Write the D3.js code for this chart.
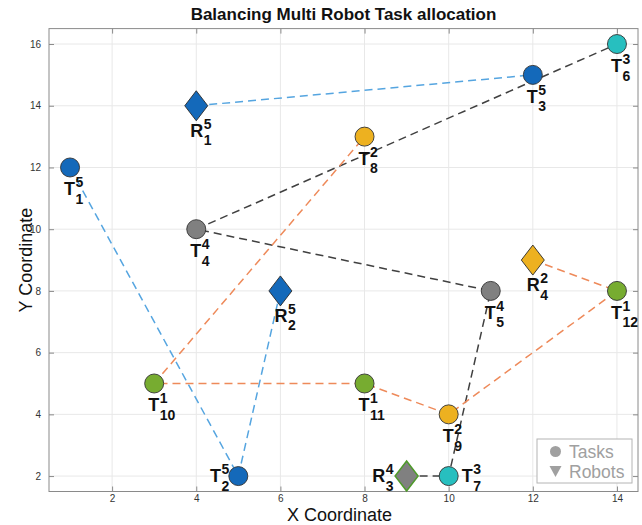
<!DOCTYPE html>
<html>
<head>
<meta charset="utf-8">
<script src="https://cdn.jsdelivr.net/npm/d3@7"></script>
<style>
  html, body { margin: 0; padding: 0; background: #fff; }
  svg { display: block; font-family: "Liberation Sans", Arial, Helvetica, sans-serif; }
</style>
</head>
<body>
<svg id="chart" width="642" height="525"></svg>
<script>
// Tasks: position and assigned group (superscript)
const taskX     = [1, 5, 12, 4, 11, 14, 10, 8, 10, 3, 8, 14];
const taskY     = [12, 2, 15, 10, 8, 16, 2, 13, 4, 5, 5, 8];
const taskGroup = [5, 5, 5, 4, 4, 3, 3, 2, 2, 1, 1, 1];

// Robots: position and group
const robotX     = [4, 6, 9, 12];
const robotY     = [14, 8, 2, 9];
const robotGroup = [5, 5, 4, 2];

// Routes travelled by each robot (node ids)
const routeNodes = [
  ["R1", "T3"],
  ["R2", "T2", "T1"],
  ["R3", "T7", "T5", "T4", "T6"],
  ["R4", "T12", "T9", "T11", "T10", "T8"]
];
const routeRobot = [1, 2, 3, 4];

const xTicks = [2, 4, 6, 8, 10, 12, 14];
const yTicks = [2, 4, 6, 8, 10, 12, 14, 16];
const xDomain = [0.5, 14.5];
const yDomain = [1.5, 16.5];

const titleText = "Balancing Multi Robot Task allocation";
const xLabel = "X Coordinate";
const yLabel = "Y Coordinate";
const legendItems = ["Tasks", "Robots"];

// ---- styles ----
const groupFill = {5: "#1469ba", 4: "#808080", 3: "#27bfbf", 2: "#edb120", 1: "#77ac30"};
const routeColor = {1: "#55a5e0", 2: "#55a5e0", 3: "#404040", 4: "#ee8a5a"};
const robotEdge = {1: "#2a2a2a", 2: "#2a2a2a", 3: "#4e9a2a", 4: "#2a2a2a"};
// label placement: "below" (default), "left", "right"
const taskLabelSide = {2: "left", 7: "right"};
const robotLabelSide = {3: "left"};

const W = 642, H = 525;
const margin = {left: 49, right: 4, top: 28.6, bottom: 33.5};
const svg = d3.select("#chart");

const x = d3.scaleLinear().domain(xDomain).range([margin.left, W - margin.right]);
const y = d3.scaleLinear().domain(yDomain).range([H - margin.bottom, margin.top]);

// node lookup
const nodes = {};
taskX.forEach((v, i) => nodes["T" + (i + 1)] = {x: v, y: taskY[i]});
robotX.forEach((v, i) => nodes["R" + (i + 1)] = {x: v, y: robotY[i]});

// background and grid
svg.append("rect").attr("x", x(xDomain[0])).attr("y", y(yDomain[1]))
  .attr("width", x(xDomain[1]) - x(xDomain[0])).attr("height", y(yDomain[0]) - y(yDomain[1]))
  .attr("fill", "#fff");

const grid = svg.append("g").attr("stroke", "#e8e8e8").attr("stroke-width", 1);
grid.selectAll("line.gx").data(xTicks).join("line")
  .attr("x1", d => x(d)).attr("x2", d => x(d))
  .attr("y1", y(yDomain[0])).attr("y2", y(yDomain[1]));
grid.selectAll("line.gy").data(yTicks).join("line")
  .attr("y1", d => y(d)).attr("y2", d => y(d))
  .attr("x1", x(xDomain[0])).attr("x2", x(xDomain[1]));

// axes (ticks inward, box on)
const axisColor = "#8a8a8a";
function styleAxis(g) {
  g.select(".domain").remove();
  g.selectAll(".tick line").attr("stroke", axisColor);
  g.selectAll(".tick text").attr("fill", "#333").attr("font-size", 10);
}
svg.append("g").attr("transform", `translate(0,${y(yDomain[0])})`)
  .call(d3.axisBottom(x).tickValues(xTicks).tickSizeInner(-5).tickSizeOuter(0).tickPadding(3))
  .call(styleAxis);
svg.append("g").attr("transform", `translate(${x(xDomain[0])},0)`)
  .call(d3.axisLeft(y).tickValues(yTicks).tickSizeInner(-5).tickSizeOuter(0).tickPadding(8))
  .call(styleAxis);
svg.append("g").attr("transform", `translate(0,${y(yDomain[1])})`)
  .call(d3.axisTop(x).tickValues(xTicks).tickSizeInner(-5).tickSizeOuter(0).tickFormat(""))
  .call(styleAxis);
svg.append("g").attr("transform", `translate(${x(xDomain[1])},0)`)
  .call(d3.axisRight(y).tickValues(yTicks).tickSizeInner(-5).tickSizeOuter(0).tickFormat(""))
  .call(styleAxis);
svg.append("rect").attr("x", x(xDomain[0])).attr("y", y(yDomain[1]))
  .attr("width", x(xDomain[1]) - x(xDomain[0])).attr("height", y(yDomain[0]) - y(yDomain[1]))
  .attr("fill", "none").attr("stroke", axisColor).attr("stroke-width", 1);

// routes
const line = d3.line().x(d => x(d.x)).y(d => y(d.y));
svg.append("g").selectAll("path").data(routeNodes).join("path")
  .attr("d", r => line(r.map(id => nodes[id])))
  .attr("fill", "none")
  .attr("stroke", (r, i) => routeColor[routeRobot[i]])
  .attr("stroke-width", 1.5)
  .attr("stroke-dasharray", "8,5");

// task markers
const tasks = taskX.map((v, i) => ({x: v, y: taskY[i], g: taskGroup[i], idx: i + 1}));
svg.append("g").selectAll("circle").data(tasks).join("circle")
  .attr("cx", d => x(d.x)).attr("cy", d => y(d.y)).attr("r", 9.5)
  .attr("fill", d => groupFill[d.g]).attr("stroke", "#333").attr("stroke-width", 0.9);

// robot markers (diamonds)
const robots = robotX.map((v, i) => ({x: v, y: robotY[i], g: robotGroup[i], idx: i + 1}));
const dw = 11.5, dh = 15;
svg.append("g").selectAll("path").data(robots).join("path")
  .attr("d", d => {
    const cx = x(d.x), cy = y(d.y);
    return `M${cx},${cy - dh}L${cx + dw},${cy}L${cx},${cy + dh}L${cx - dw},${cy}Z`;
  })
  .attr("fill", d => groupFill[d.g])
  .attr("stroke", d => robotEdge[d.idx]).attr("stroke-width", d => d.idx === 3 ? 1.5 : 0.9);

// labels: letter with superscript group and subscript index
const labels = svg.append("g").attr("font-weight", "bold").attr("fill", "#111");
function drawLabel(letter, sup, sub, cx, cy, side) {
  const g = labels.append("g");
  const main = g.append("text").attr("font-size", 18).text(letter);
  const w = main.node().getComputedTextLength();
  const supT = g.append("text").attr("font-size", 14).attr("x", w + 0.5).attr("y", -8).text(sup);
  const subT = g.append("text").attr("font-size", 14).attr("x", w + 0.5).attr("y", 8.5).text(sub);
  const total = w + 0.5 + Math.max(supT.node().getComputedTextLength(), subT.node().getComputedTextLength());
  let ox, oy;
  if (side === "left") { ox = cx - total - (letter === "R" ? 13 : 9); oy = cy + 6; }
  else if (side === "right") { ox = cx + 13; oy = cy + 6; }
  else { ox = cx - 6; oy = cy + 28; }
  g.attr("transform", `translate(${ox},${oy})`);
}
tasks.forEach(d => drawLabel("T", d.g, d.idx, x(d.x), y(d.y), taskLabelSide[d.idx]));
robots.forEach(d => drawLabel("R", d.g, d.idx, x(d.x), y(d.y) + (robotLabelSide[d.idx] ? 0 : 3), robotLabelSide[d.idx]));

// title and axis labels
svg.append("text").attr("x", (x(xDomain[0]) + x(xDomain[1])) / 2).attr("y", 20)
  .attr("text-anchor", "middle").attr("font-size", 17).attr("font-weight", "bold").attr("fill", "#111")
  .text(titleText);
svg.append("text").attr("x", (x(xDomain[0]) + x(xDomain[1])) / 2 - 4).attr("y", 521)
  .attr("text-anchor", "middle").attr("font-size", 18).attr("fill", "#111").text(xLabel);
svg.append("text").attr("transform", `translate(32,${(y(yDomain[0]) + y(yDomain[1])) / 2}) rotate(-90)`)
  .attr("text-anchor", "middle").attr("font-size", 18).attr("fill", "#111").text(yLabel);

// legend (greyed)
const lg = svg.append("g");
lg.append("rect").attr("x", 537).attr("y", 439).attr("width", 95).attr("height", 44)
  .attr("fill", "#fff").attr("stroke", "#b4b4b4").attr("stroke-width", 1);
lg.append("circle").attr("cx", 555.5).attr("cy", 451.5).attr("r", 5.5).attr("fill", "#a0a0a0");
lg.append("path").attr("d", "M549.5,466L561.5,466L555.5,477Z").attr("fill", "#a0a0a0");
lg.selectAll("text").data(legendItems).join("text")
  .attr("x", 569).attr("y", (d, i) => 457.5 + i * 20)
  .attr("font-size", 17.5).attr("fill", "#a0a0a0").text(d => d);
</script>
</body>
</html>
